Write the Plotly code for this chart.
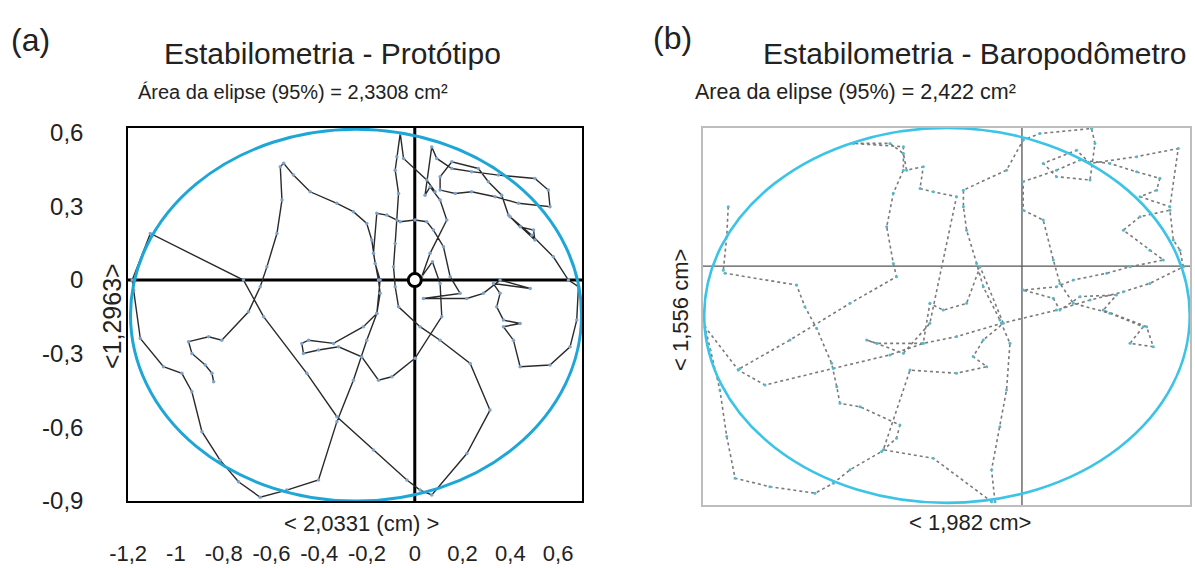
import plotly.graph_objects as go

W, H = 1195, 568

# ---------------- data: panel (a) prototype trajectory (cm) ----------------
proto_x = [-0.842, -0.849, -0.877, -0.933, -0.947, -0.863, -0.808, -0.696, -0.647, -0.619,
           -0.577, -0.556, -0.563, -0.549, -0.508, -0.438, -0.326, -0.257, -0.201, -0.180,
           -0.166, -0.145, -0.159, -0.215, -0.340, -0.445, -0.473, -0.466, -0.403, -0.319,
           -0.222, -0.152, -0.096, 0.001, 0.113, 0.106, 0.074, 0.029, 0.064, 0.134,
           0.106, 0.064, 0.043, 0.071, 0.092, 0.155, 0.238, 0.350, 0.503, 0.559,
           0.566, 0.434, 0.336, 0.238, 0.169, 0.106, 0.106, 0.155, 0.266, 0.308,
           0.364, 0.392, 0.441, 0.497, 0.503, 0.399, 0.490, 0.580, 0.643, 0.685,
           0.678, 0.650, 0.566, 0.441, 0.413, 0.371, 0.441, 0.371, 0.343, 0.357,
           0.329, 0.483, 0.357, 0.287, 0.218, 0.036, 0.190, 0.148, 0.120, 0.078,
           0.050, 0.001, -0.061, -0.117, -0.159, -0.173, -0.152, -0.145, -0.159, -0.201,
           -0.257, -0.326, -0.403, -0.536, -0.647, -0.738, -0.815, -0.891, -0.933, -0.975,
           -1.052, -1.149, -1.177, -1.183, -1.107, -0.717, -0.633, -0.452, -0.326, -0.173,
           -0.033, 0.022, 0.071, 0.218, 0.315, 0.232, 0.106, 0.022, -0.068, -0.082,
           -0.089, -0.082, -0.075, -0.068, -0.082, -0.075, -0.061, -0.047, 0.050, 0.085]
proto_y = [-0.414, -0.380, -0.346, -0.299, -0.251, -0.231, -0.245, -0.129, -0.027, 0.054,
           0.190, 0.326, 0.462, 0.476, 0.428, 0.360, 0.313, 0.279, 0.231, 0.163,
           0.068, 0.000, -0.136, -0.190, -0.258, -0.245, -0.258, -0.299, -0.285, -0.272,
           -0.313, -0.408, -0.394, -0.319, -0.149, -0.014, 0.075, 0.014, 0.109, 0.245,
           0.326, 0.380, 0.346, 0.543, 0.496, 0.455, 0.442, 0.428, 0.414, 0.367,
           0.299, 0.313, 0.340, 0.360, 0.353, 0.367, 0.421, 0.482, 0.455, 0.401,
           0.346, 0.265, 0.217, 0.204, 0.163, 0.258, 0.183, 0.095, 0.000, -0.027,
           -0.163, -0.272, -0.346, -0.353, -0.245, -0.190, -0.177, -0.163, -0.109, -0.054,
           -0.014, -0.034, 0.000, -0.054, -0.075, -0.075, -0.054, 0.014, 0.136, 0.204,
           0.238, 0.245, 0.238, 0.265, 0.272, 0.109, 0.000, -0.054, -0.136, -0.245,
           -0.408, -0.577, -0.815, -0.856, -0.885, -0.822, -0.734, -0.618, -0.455, -0.380,
           -0.353, -0.238, -0.041, 0.000, 0.190, 0.000, -0.149, -0.380, -0.557, -0.693,
           -0.815, -0.856, -0.876, -0.707, -0.530, -0.340, -0.245, -0.190, -0.109, -0.027,
           0.054, 0.149, 0.245, 0.353, 0.448, 0.503, 0.598, 0.496, 0.408, 0.360]

# ---------------- data: panel (b) baropodometer trajectory (cm) ----------------
baro_x = [-1.199, -1.205, -1.219, -1.212, -0.920, -0.886, -0.838, -0.777, -0.756, -0.743,
          -0.661, -0.498, -0.512, -0.573, -0.702, -0.770, -0.845, -1.029, -1.171, -1.205,
          -1.233, -1.273, -1.294, -1.158, -1.049, -0.770, -0.539, -0.403, -0.267, -0.083,
          0.141, 0.278, 0.414, 0.522, 0.659, 0.645, 0.618, 0.604, 0.482, 0.414,
          0.522, 0.577, 0.441, 0.346, 0.210, 0.141, 0.005, 0.128, 0.155, 0.237,
          0.386, 0.332, 0.509, 0.536, 0.441, 0.495, 0.359, 0.210, 0.155, 0.128,
          0.087, 0.005, 0.005, 0.141, 0.237, 0.359, 0.468, 0.563, 0.550, 0.482,
          0.604, 0.638, 0.468, 0.278, 0.223, 0.087, 0.141, 0.278, 0.298, 0.284,
          0.073, 0.005, -0.063, -0.239, -0.239, -0.226, -0.185, -0.158, -0.090, -0.049,
          -0.063, -0.090, -0.124, -0.110, -0.124, -0.362, -0.566, -0.457, -0.267, -0.144,
          -0.199, -0.158, -0.076, -0.171, -0.226, -0.321, -0.376, -0.403, -0.593, -0.634,
          -0.484, -0.376, -0.267, -0.362, -0.416, -0.403, -0.471, -0.484, -0.539, -0.688,
          -0.484, -0.484, -0.525, -0.552, -0.525, -0.512, -0.702, -0.947, -1.151]
baro_y = [0.246, 0.122, -0.017, -0.030, -0.079, -0.169, -0.259, -0.404, -0.501, -0.570,
          -0.584, -0.660, -0.715, -0.770, -0.846, -0.902, -0.943, -0.916, -0.881, -0.708,
          -0.515, -0.349, -0.252, -0.432, -0.494, -0.425, -0.369, -0.321, -0.293, -0.238,
          -0.183, -0.141, -0.107, -0.072, -0.003, 0.066, 0.108, 0.232, 0.205, 0.149,
          0.066, 0.025, -0.003, -0.030, -0.058, -0.086, -0.100, -0.134, -0.183, -0.127,
          -0.120, -0.183, -0.252, -0.335, -0.321, -0.252, -0.196, -0.155, -0.072, 0.025,
          0.191, 0.232, 0.350, 0.398, 0.440, 0.426, 0.391, 0.364, 0.315, 0.288,
          0.246, 0.488, 0.454, 0.426, 0.481, 0.426, 0.371, 0.357, 0.509, 0.571,
          0.550, 0.523, 0.398, 0.315, 0.246, 0.149, 0.011, -0.086, -0.224, -0.321,
          -0.515, -0.667, -0.846, -0.978, -0.978, -0.798, -0.763, -0.432, -0.445, -0.418,
          -0.376, -0.307, -0.238, -0.003, -0.155, -0.183, -0.155, -0.321, -0.321, -0.307,
          -0.362, -0.238, 0.288, 0.308, 0.322, 0.412, 0.398, 0.467, 0.509, 0.509,
          0.495, 0.398, 0.302, 0.163, 0.011, -0.044, -0.155, -0.307, -0.425]

# 95% ellipses (centre and semi-axes, cm)
ell_a = dict(cx=-0.246, cy=-0.143, rx=0.944, ry=0.758)
ell_b = dict(cx=-0.306, cy=-0.205, rx=0.991, ry=0.778)

origin_x, origin_y = [0.0], [0.0]

x_ticks_a = [-1.2, -1.0, -0.8, -0.6, -0.4, -0.2, 0.0, 0.2, 0.4, 0.6]
x_labels_a = ["-1,2", "-1", "-0,8", "-0,6", "-0,4", "-0,2", "0", "0,2", "0,4", "0,6"]
y_ticks_a = [-0.9, -0.6, -0.3, 0.0, 0.3, 0.6]
y_labels_a = ["-0,9", "-0,6", "-0,3", "0", "0,3", "0,6"]

# ---------------- figure ----------------
FONT = "Liberation Sans, Arial, sans-serif"
TXT = "#222222"

def px(x):
    return x / W

def py(y):
    return 1 - y / H

fig = go.Figure()

fig.add_trace(go.Scatter(
    x=proto_x, y=proto_y, mode="lines+markers", xaxis="x", yaxis="y",
    line=dict(color="#2a2a2a", width=1.4),
    marker=dict(size=3.5, color="#7fa3c8"), hoverinfo="skip", showlegend=False))
fig.add_trace(go.Scatter(
    x=origin_x, y=origin_y, mode="markers", xaxis="x", yaxis="y",
    marker=dict(size=13, color="white", line=dict(color="black", width=3)),
    hoverinfo="skip", showlegend=False))
fig.add_trace(go.Scatter(
    x=baro_x, y=baro_y, mode="lines+markers", xaxis="x2", yaxis="y2",
    line=dict(color="#7a7a7a", width=1.6, dash="dot"),
    marker=dict(size=3, color="#57b8c8"), hoverinfo="skip", showlegend=False))

shapes = []
# panel (a) crosshair and ellipse
shapes.append(dict(type="line", xref="x", yref="y domain", x0=0, x1=0, y0=0, y1=1,
                   line=dict(color="black", width=3), layer="below"))
shapes.append(dict(type="line", xref="x domain", yref="y", x0=0, x1=1, y0=0, y1=0,
                   line=dict(color="black", width=3), layer="below"))
shapes.append(dict(type="circle", xref="x", yref="y",
                   x0=ell_a["cx"] - ell_a["rx"], x1=ell_a["cx"] + ell_a["rx"],
                   y0=ell_a["cy"] - ell_a["ry"], y1=ell_a["cy"] + ell_a["ry"],
                   line=dict(color="#1ea7d6", width=3)))
# panel (b)
shapes.append(dict(type="line", xref="x2", yref="y2 domain", x0=0, x1=0, y0=0, y1=1,
                   line=dict(color="#555555", width=1.3), layer="below"))
shapes.append(dict(type="line", xref="x2 domain", yref="y2", x0=0, x1=1, y0=0, y1=0,
                   line=dict(color="#555555", width=1.3), layer="below"))
shapes.append(dict(type="circle", xref="x2", yref="y2",
                   x0=ell_b["cx"] - ell_b["rx"], x1=ell_b["cx"] + ell_b["rx"],
                   y0=ell_b["cy"] - ell_b["ry"], y1=ell_b["cy"] + ell_b["ry"],
                   line=dict(color="#3cc4e6", width=2.6)))

ann = []
def add_text(text, x, y, size, xanchor="center", angle=0):
    ann.append(dict(text=text, x=px(x), y=py(y), xref="paper", yref="paper",
                    xanchor=xanchor, yanchor="middle", showarrow=False, textangle=angle,
                    font=dict(family=FONT, size=size, color=TXT)))

add_text("(a)", 30, 40, 32)
add_text("Estabilometria - Protótipo", 332, 54, 30)
add_text("Área da elipse (95%) = 2,3308 cm²", 136, 92, 20, xanchor="left")
add_text("< 2,0331 (cm) >", 361, 523, 22)
add_text("<1,2963>", 112, 316, 25, angle=-90)

add_text("(b)", 673, 38, 32)
add_text("Estabilometria - Baropodômetro", 975, 54, 30)
add_text("Area da elipse (95%) = 2,422 cm²", 693, 92, 21.5, xanchor="left")
add_text("< 1,982 cm>", 970, 522, 22)
add_text("< 1,556 cm>", 680, 310, 22, angle=-90)

fig.update_layout(
    width=W, height=H, margin=dict(l=0, r=0, t=0, b=0, autoexpand=False),
    paper_bgcolor="white", plot_bgcolor="white",
    font=dict(family=FONT, color=TXT),
    shapes=shapes, annotations=ann, showlegend=False,
    xaxis=dict(domain=[px(128), px(582)], range=[-1.2005, 0.7], anchor="y",
               tickvals=x_ticks_a, ticktext=x_labels_a, ticks="", automargin=False,
               ticklabelstandoff=32, tickfont=dict(size=22, family=FONT, color=TXT),
               showgrid=False, zeroline=False, showline=True, mirror=True,
               linecolor="black", linewidth=1.5),
    yaxis=dict(domain=[py(501), py(128)], range=[-0.9005, 0.62], anchor="x",
               tickvals=y_ticks_a, ticktext=y_labels_a, ticks="", automargin=False,
               ticklabelstandoff=38, tickfont=dict(size=24, family=FONT, color=TXT),
               showgrid=False, zeroline=False, showline=True, mirror=True,
               linecolor="black", linewidth=1.5),
    xaxis2=dict(domain=[px(703), px(1190)], range=[-1.302, 0.686], anchor="y2",
                showticklabels=False, ticks="", showgrid=False, zeroline=False,
                automargin=False,
                showline=True, mirror=True, linecolor="#bdbdbd", linewidth=1.5),
    yaxis2=dict(domain=[py(505), py(128)], range=[-0.992, 0.573], anchor="x2",
                showticklabels=False, ticks="", showgrid=False, zeroline=False,
                automargin=False,
                showline=True, mirror=True, linecolor="#bdbdbd", linewidth=1.5),
)

fig.write_html("out.html")
